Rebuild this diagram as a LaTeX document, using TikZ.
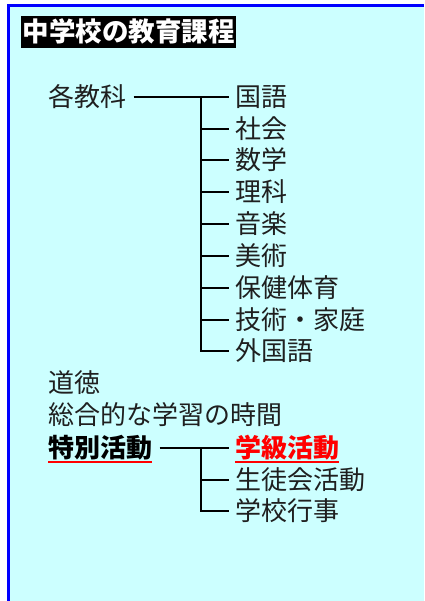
\documentclass[tikz,border=0pt]{standalone}
\usepackage{fontspec}
\setmainfont{Noto Sans CJK JP}
\definecolor{bgcyan}{HTML}{CCFFFF}
\definecolor{bordblue}{HTML}{0000FF}
\definecolor{ulred}{HTML}{FF0000}
\begin{document}
\begin{tikzpicture}[x=1pt,y=-1pt,
  every node/.style={inner sep=0pt, outer sep=0pt, anchor=west,
    text height=22.5pt, text depth=3.5pt,
    font=\fontsize{26}{26}\selectfont, text=black!88},
  conn/.style={line width=2pt, black, shorten >=6.5pt},
  uline/.style={line width=2pt, ulred},
  boldtext/.style={font=\fontsize{26}{26}\selectfont\bfseries},
  titlebox/.style={fill=black, text=white, inner xsep=1.5pt, inner ysep=3pt,
    font=\fontsize{26.5}{27}\selectfont\bfseries}]
\useasboundingbox (0,0) rectangle (424,601);
\fill[white] (0,0) rectangle (424,601);
\fill[bgcyan] (8.5,5.5) rectangle (424,601);
\draw[bordblue, line width=3pt] (8.5,601) -- (8.5,5.5) -- (424,5.5);

\node[titlebox] (title) at (21,32) {中学校の教育課程};

\node (kk) at (48,97) {各教科};
\node (i1) at (235,97) {国語};
\node (i2) at (235,129) {社会};
\node (i3) at (235,160.5) {数学};
\node (i4) at (235,192) {理科};
\node (i5) at (235,224) {音楽};
\node (i6) at (235,256) {美術};
\node (i7) at (235,287.5) {保健体育};
\node (i8) at (235,319.5) {技術・家庭};
\node (i9) at (235,351) {外国語};

\node (dt) at (48,383) {道徳};
\node (sg) at (48,415) {総合的な学習の時間};
\node[boldtext, text=black] (tk) at (48,448) {特別活動};
\node[boldtext, text=ulred] (gk) at (235,448) {学級活動};
\node (st) at (235,480) {生徒会活動};
\node (gg) at (235,511) {学校行事};

\coordinate (j1) at (201,97);
\coordinate (j2) at (201,448);

\draw[conn, shorten <=7.5pt] (kk.east) -- (i1.west);
\foreach \n in {i2,i3,i4,i5,i6,i7,i8,i9}
  \draw[conn] (j1) |- (\n.west);

\draw[conn, shorten <=7.5pt] (tk.east) -- (gk.west);
\draw[conn] (j2) |- (st.west);
\draw[conn] (j2) |- (gg.west);

\draw[uline] ([yshift=-1pt]tk.south west) -- ([yshift=-1pt]tk.south east);
\draw[uline] ([yshift=-1pt]gk.south west) -- ([yshift=-1pt]gk.south east);
\end{tikzpicture}
\end{document}
